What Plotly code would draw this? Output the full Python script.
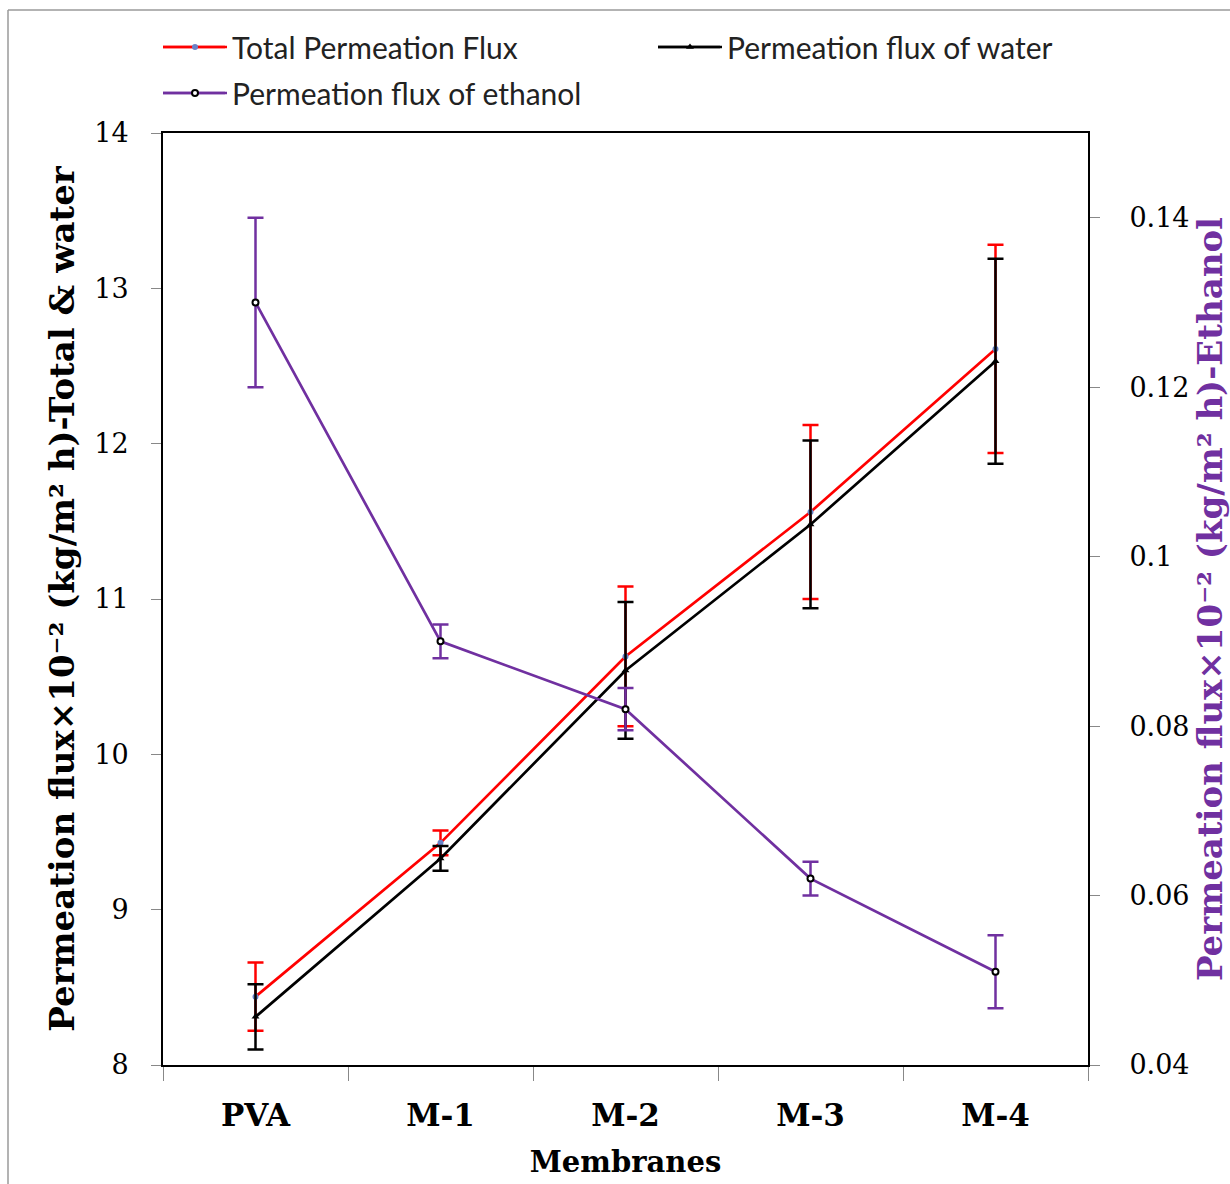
import plotly.graph_objects as go

categories = ["PVA", "M-1", "M-2", "M-3", "M-4"]
total_flux = [8.44, 9.43, 10.63, 11.56, 12.61]
total_err = [0.22, 0.08, 0.45, 0.56, 0.67]
water_flux = [8.31, 9.33, 10.54, 11.48, 12.53]
water_err = [0.21, 0.08, 0.44, 0.54, 0.66]
ethanol_flux = [0.130, 0.090, 0.082, 0.062, 0.051]
ethanol_err = [0.010, 0.002, 0.0025, 0.002, 0.0043]

left_ticks = [8, 9, 10, 11, 12, 13, 14]
right_ticks = [0.04, 0.06, 0.08, 0.10, 0.12, 0.14]
right_ticktext = ["0.04", "0.06", "0.08", "0.1", "0.12", "0.14"]

RED = "#FF0000"
BLACK = "#000000"
PURPLE = "#7030A0"

fig = go.Figure()

fig.add_trace(go.Scatter(
    x=categories, y=total_flux, name="Total Permeation Flux",
    mode="lines+markers", legend="legend",
    line=dict(color=RED, width=2.7),
    marker=dict(symbol="circle", size=6, color="#6A82C8"),
    error_y=dict(type="data", array=total_err, visible=True, color=RED, thickness=2.5, width=8),
))
fig.add_trace(go.Scatter(
    x=categories, y=water_flux, name="Permeation flux of water",
    mode="lines+markers", legend="legend",
    line=dict(color=BLACK, width=2.7),
    marker=dict(symbol="triangle-up", size=7, color=BLACK),
    error_y=dict(type="data", array=water_err, visible=True, color=BLACK, thickness=2.5, width=8),
))
fig.add_trace(go.Scatter(
    x=categories, y=ethanol_flux, name="Permeation flux of ethanol",
    mode="lines+markers", yaxis="y2", legend="legend2",
    line=dict(color=PURPLE, width=2.7),
    marker=dict(symbol="circle", size=6, color="white", line=dict(color=BLACK, width=2)),
    error_y=dict(type="data", array=ethanol_err, visible=True, color=PURPLE, thickness=2.5, width=8),
))

serif = "DejaVu Serif"
legend_font = dict(family="Lato", size=30, color="#222222")

def px_x(px):
    return (px - 163) / 925.0

def px_y(py):
    return (1065 - py) / 932.0

legend_lines = [
    (163, 225, 47, RED),
    (658, 720, 47, BLACK),
    (163, 225, 93, PURPLE),
]
shapes = [
    dict(type="line", xref="paper", yref="paper", x0=px_x(x0), x1=px_x(x1), y0=px_y(y), y1=px_y(y),
         line=dict(color=c, width=2.5), layer="below")
    for (x0, x1, y, c) in legend_lines
]
shapes += [
    dict(type="line", xref="paper", yref="paper", x0=px_x(8), x1=px_x(1240), y0=px_y(10), y1=px_y(10),
         line=dict(color="#9A9A9A", width=1.5)),
    dict(type="line", xref="paper", yref="paper", x0=px_x(8), x1=px_x(8), y0=px_y(10), y1=px_y(1200),
         line=dict(color="#9A9A9A", width=1.5)),
]

fig.update_layout(
    width=1230, height=1184,
    margin=dict(l=163, r=142, t=133, b=119, autoexpand=False),
    paper_bgcolor="white", plot_bgcolor="white",
    showlegend=True,
    legend=dict(
        orientation="h",
        x=px_x(158), xanchor="left", y=px_y(47), yanchor="middle",
        font=legend_font, entrywidth=416, entrywidthmode="pixels",
        bgcolor="rgba(0,0,0,0)", itemwidth=64,
    ),
    legend2=dict(
        orientation="h",
        x=px_x(158), xanchor="left", y=px_y(93), yanchor="middle",
        font=legend_font, bgcolor="rgba(0,0,0,0)", itemwidth=64,
    ),
    xaxis=dict(
        type="category", range=[-0.5, 4.5], automargin=False,
        tickson="boundaries", ticks="outside", ticklen=14, tickcolor="#888888", tickwidth=1,
        showline=True, linecolor=BLACK, linewidth=2, mirror=True,
        showgrid=False, zeroline=False,
        tickfont=dict(family=serif, size=31, color=BLACK, weight="bold"),
        ticklabelstandoff=22,
        title=dict(text="<b>Membranes</b>", font=dict(family=serif, size=29, color=BLACK), standoff=19),
    ),
    yaxis=dict(
        range=[8, 14], tickvals=left_ticks, automargin=False,
        ticks="outside", ticklen=10, tickcolor="#888888", tickwidth=1,
        showline=True, linecolor=BLACK, linewidth=2, mirror=True,
        showgrid=False, zeroline=False,
        tickfont=dict(family=serif, size=27, color=BLACK),
        ticklabelstandoff=17,
        title=dict(text="<b>Permeation flux×10⁻² (kg/m² h)-Total & water</b>",
                   font=dict(family=serif, size=34, color=BLACK), standoff=9),
    ),
    yaxis2=dict(
        overlaying="y", side="right", automargin=False,
        range=[0.04, 0.15], tickvals=right_ticks, ticktext=right_ticktext,
        ticks="outside", ticklen=10, tickcolor="#888888", tickwidth=1,
        showline=True, linecolor=BLACK, linewidth=2,
        showgrid=False, zeroline=False,
        tickfont=dict(family=serif, size=27, color=BLACK),
        ticklabelstandoff=24,
        title=dict(text="<b>Permeation flux×10⁻² (kg/m² h)-Ethanol</b>",
                   font=dict(family=serif, size=34, color=PURPLE), standoff=6),
    ),
    shapes=shapes,
)

fig.write_html("out.html")
